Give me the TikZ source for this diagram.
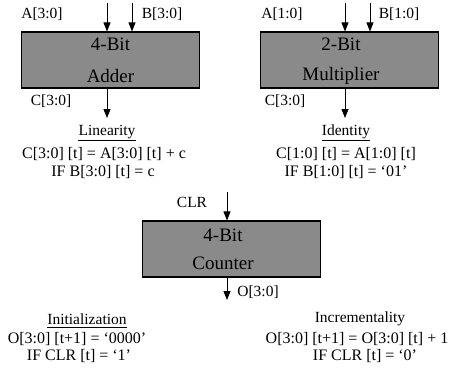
\documentclass[tikz,border=0pt]{standalone}
\usepackage{fontspec}
\setmainfont{Liberation Serif}
\usetikzlibrary{arrows.meta}
\tikzset{
  block/.style={draw=black, line width=1.1pt, fill=black!46, minimum width=178pt, minimum height=56pt, inner sep=0pt},
  boxtext/.style={font=\fontsize{19}{22}\selectfont, inner sep=0pt},
  lbl/.style={font=\fontsize{15.5}{18}\selectfont, inner sep=0pt},
  eq/.style={font=\fontsize{16}{18}\selectfont, inner sep=0pt},
  sig/.style={line width=0.8pt, -{Triangle[length=9pt,width=7pt]}},
  uline/.style={line width=0.7pt}
}
\begin{document}
\begin{tikzpicture}[x=1pt,y=-1pt]
\useasboundingbox (0,0) rectangle (459,376);
% blocks
\node[block] (adder) at (110.5,60) {};
\node[block] (mult) at (349.5,60) {};
\node[block] (counter) at (231.5,249) {};
\node[boxtext] (adderA) at (110.5,44) {4-Bit};
\node[boxtext] (adderB) at (110.5,76) {Adder};
\node[boxtext] (multA) at (341,44) {2-Bit};
\node[boxtext] (multB) at (341,76) {Multiplier};
\node[boxtext] (cntA) at (223,235) {4-Bit};
\node[boxtext] (cntB) at (223,263) {Counter};
% adder signals
\coordinate (aA) at (107,3);
\coordinate (aB) at (132,3);
\coordinate (aC) at (107,118);
\draw[sig] (aA) -- (aA |- adder.north);
\draw[sig] (aB) -- (aB |- adder.north);
\draw[sig] (aC |- adder.south) -- (aC);
\node[lbl] (lA) at (42,14) {A[3:0]};
\node[lbl] (lB) at (162,14) {B[3:0]};
\node[lbl] (lC) at (51,101) {C[3:0]};
% multiplier signals
\coordinate (mA) at (345,3);
\coordinate (mB) at (370,3);
\coordinate (mC) at (345,118);
\draw[sig] (mA) -- (mA |- mult.north);
\draw[sig] (mB) -- (mB |- mult.north);
\draw[sig] (mC |- mult.south) -- (mC);
\node[lbl] (mlA) at (282,14) {A[1:0]};
\node[lbl] (mlB) at (399,14) {B[1:0]};
\node[lbl] (mlC) at (285,101) {C[3:0]};
% counter signals
\coordinate (cClr) at (227,192);
\coordinate (cO) at (227,300);
\draw[sig] (cClr) -- (cClr |- counter.north);
\draw[sig] (cO |- counter.south) -- (cO);
\node[lbl] (lClr) at (192,202) {CLR};
\node[lbl] (lO) at (258,292) {O[3:0]};
% Linearity
\node[lbl] (lin) at (107,132) {Linearity};
\draw[uline] ([yshift=-4.5pt]lin.base west) -- ([yshift=-4.5pt]lin.base east);
\node[eq] (lin1) at (104,154) {C[3:0] [t] = A[3:0] [t] + c};
\node[eq] (lin2) at (103,172) {IF B[3:0] [t] = c};
% Identity
\node[lbl] (idt) at (346,132) {Identity};
\draw[uline] ([yshift=-4.5pt]idt.base west) -- ([yshift=-4.5pt]idt.base east);
\node[eq] (idt1) at (346,154) {C[1:0] [t] = A[1:0] [t]};
\node[eq] (idt2) at (346,172) {IF B[1:0] [t] = `01'};
% Initialization
\node[lbl] (ini) at (87,319) {Initialization};
\draw[uline] ([yshift=-3pt]ini.base west) -- ([yshift=-3pt]ini.base east);
\node[eq] (ini1) at (77,339) {O[3:0] [t+1] = `0000'};
\node[eq] (ini2) at (79,356) {IF CLR [t] = `1'};
% Incrementality
\node[lbl] (inc) at (360,319) {Incrementality};
\node[eq] (inc1) at (357,339) {O[3:0] [t+1] = O[3:0] [t] + 1};
\node[eq] (inc2) at (365,356) {IF CLR [t] = `0'};
\end{tikzpicture}
\end{document}
